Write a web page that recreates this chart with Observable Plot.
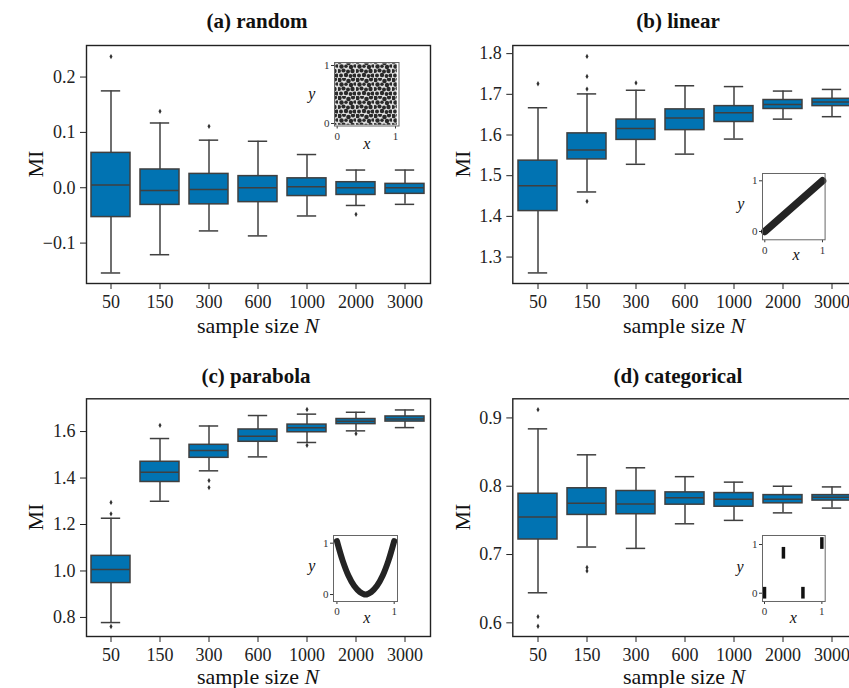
<!DOCTYPE html>
<html>
<head>
<meta charset="utf-8">
<script src="https://cdn.jsdelivr.net/npm/d3@7"></script>
<script src="https://cdn.jsdelivr.net/npm/@observablehq/plot@0.6"></script>
<style>
  html, body { margin: 0; padding: 0; background: #fff; overflow: hidden; }
  #fig { position: relative; width: 849px; height: 688px; overflow: hidden; background: #fff; }
  .cell { position: absolute; overflow: visible; }
  .cell svg { display: block; overflow: visible; }
  #fig svg, #fig svg text { font-family: 'Liberation Serif', 'Times New Roman', serif !important; }
</style>
</head>
<body>
<svg width="0" height="0" style="position:absolute">
  <defs>
    <pattern id="speckle" width="18" height="18" patternUnits="userSpaceOnUse">
      <rect width="18" height="18" fill="#dcdcdc"/>
      <g fill="#111" fill-opacity="0.88">
        <circle cx="1.5" cy="2" r="2.2"/>
        <circle cx="6" cy="1" r="2"/>
        <circle cx="10.5" cy="3" r="2.3"/>
        <circle cx="15" cy="1.5" r="2.1"/>
        <circle cx="3.5" cy="6.5" r="2.2"/>
        <circle cx="8" cy="6.2" r="1.8"/>
        <circle cx="13" cy="7" r="2.2"/>
        <circle cx="17" cy="6" r="1.8"/>
        <circle cx="1" cy="11" r="2"/>
        <circle cx="5.5" cy="10.5" r="2.1"/>
        <circle cx="10" cy="11.5" r="2"/>
        <circle cx="14.5" cy="11" r="2.2"/>
        <circle cx="3" cy="15.5" r="2"/>
        <circle cx="8" cy="15" r="2.2"/>
        <circle cx="12.5" cy="16" r="1.9"/>
        <circle cx="16.5" cy="15.5" r="2.1"/>
      </g>
    </pattern>
    <filter id="soft" x="-5%" y="-5%" width="110%" height="110%"><feGaussianBlur stdDeviation="0.5"/></filter>
  </defs>
</svg>
<div id="fig"></div>
<script>
// Sample sizes on the x axis of every panel
const sizes = ["50", "150", "300", "600", "1000", "2000", "3000"];

// (a) random: lower whisker, Q1, median, Q3, upper whisker, outliers
const randomLow  = [-0.154, -0.121, -0.078, -0.087, -0.051, -0.032, -0.030];
const randomQ1   = [-0.053, -0.031, -0.030, -0.026, -0.015, -0.013, -0.011];
const randomMed  = [ 0.005, -0.005, -0.003,  0.000,  0.002,  0.000,  0.000];
const randomQ3   = [ 0.063,  0.033,  0.025,  0.021,  0.017,  0.010,  0.007];
const randomHigh = [ 0.175,  0.117,  0.086,  0.084,  0.060,  0.032,  0.032];
const randomOutN  = ["50", "150", "300", "2000"];
const randomOutMI = [0.237, 0.138, 0.111, -0.048];
const randomTicks = [-0.1, 0.0, 0.1, 0.2];

// (b) linear
const linearLow  = [1.261, 1.460, 1.528, 1.553, 1.590, 1.639, 1.645];
const linearQ1   = [1.413, 1.540, 1.588, 1.612, 1.632, 1.664, 1.671];
const linearMed  = [1.475, 1.563, 1.616, 1.642, 1.655, 1.675, 1.681];
const linearQ3   = [1.537, 1.604, 1.638, 1.663, 1.671, 1.686, 1.689];
const linearHigh = [1.667, 1.701, 1.710, 1.721, 1.719, 1.708, 1.712];
const linearOutN  = ["50", "150", "150", "150", "150", "300"];
const linearOutMI = [1.726, 1.793, 1.744, 1.713, 1.437, 1.728];
const linearTicks = [1.3, 1.4, 1.5, 1.6, 1.7, 1.8];

// (c) parabola
const parabolaLow  = [0.778, 1.300, 1.431, 1.491, 1.553, 1.603, 1.617];
const parabolaQ1   = [0.948, 1.383, 1.487, 1.556, 1.597, 1.632, 1.643];
const parabolaMed  = [1.006, 1.425, 1.518, 1.580, 1.616, 1.644, 1.654];
const parabolaQ3   = [1.065, 1.470, 1.543, 1.609, 1.630, 1.654, 1.665];
const parabolaHigh = [1.227, 1.570, 1.624, 1.669, 1.675, 1.683, 1.693];
const parabolaOutN  = ["50", "50", "50", "150", "300", "300", "1000", "1000", "2000"];
const parabolaOutMI = [1.295, 1.246, 0.761, 1.627, 1.389, 1.359, 1.695, 1.541, 1.591];
const parabolaTicks = [0.8, 1.0, 1.2, 1.4, 1.6];

// (d) categorical
const categoricalLow  = [0.644, 0.711, 0.709, 0.745, 0.750, 0.761, 0.768];
const categoricalQ1   = [0.722, 0.758, 0.759, 0.773, 0.770, 0.775, 0.779];
const categoricalMed  = [0.755, 0.775, 0.774, 0.783, 0.781, 0.781, 0.784];
const categoricalQ3   = [0.789, 0.797, 0.793, 0.791, 0.790, 0.787, 0.787];
const categoricalHigh = [0.884, 0.846, 0.827, 0.814, 0.806, 0.800, 0.799];
const categoricalOutN  = ["50", "50", "50", "150", "150"];
const categoricalOutMI = [0.912, 0.609, 0.595, 0.681, 0.676];
const categoricalTicks = [0.6, 0.7, 0.8, 0.9];

// Inset sketches of the x–y relationship
const linearSketchX = [0, 1];
const linearSketchY = [0, 1];
const parabolaSketchX = [0, 0.1, 0.2, 0.3, 0.4, 0.5, 0.6, 0.7, 0.8, 0.9, 1];
const parabolaSketchY = [1.04, 0.66, 0.37, 0.17, 0.05, 0.0, 0.05, 0.17, 0.37, 0.66, 1.04];
const categoricalSketchX  = [0, 0.33, 0.67, 1];
const categoricalSketchLo = [-0.12, 0.70, -0.12, 0.90];
const categoricalSketchHi = [0.12, 0.94, 0.12, 1.14];
const insetTicks = [0, 1];

const FONT = "Liberation Serif, Times New Roman, serif";
const BOX_FILL = "#0173b2";
const LINE = "#3f3f3f";
const CLOUD = "#2e2e2e";
const FRAME_W = 344;

const fig = document.getElementById("fig");

function place(node, left, top, w, h) {
  const div = document.createElement("div");
  div.className = "cell";
  div.style.left = left + "px";
  div.style.top = top + "px";
  div.style.width = w + "px";
  div.style.height = h + "px";
  div.appendChild(node);
  fig.appendChild(div);
}

function boxPanel(p) {
  const rows = sizes.map((n, i) => ({
    n, low: p.low[i], q1: p.q1[i], med: p.med[i], q3: p.q3[i], high: p.high[i]
  }));
  const fliers = p.outN.map((n, i) => ({n, v: p.outMI[i]}));
  const band = FRAME_W / 7 * 0.8;
  const cap = band / 4;
  const line = {stroke: LINE, strokeWidth: 1.5};
  const chart = Plot.plot({
    width: p.w,
    height: p.h,
    marginLeft: p.ml,
    marginRight: p.w - p.ml - FRAME_W,
    marginTop: p.mt,
    marginBottom: p.mb,
    style: `font-family: ${FONT}; font-size: 18px; color: #222; background: transparent; overflow: visible;`,
    x: {type: "band", domain: sizes, paddingInner: 0.2, paddingOuter: 0.1,
        tickSize: 6, tickPadding: 6, label: null},
    y: {domain: p.domain, ticks: p.ticks, tickFormat: d3.format(".1f"),
        tickSize: 6, tickPadding: 5, label: null},
    marks: [
      Plot.ruleX(rows, {x: "n", y1: "low", y2: "q1", ...line}),
      Plot.ruleX(rows, {x: "n", y1: "q3", y2: "high", ...line}),
      Plot.tickY(rows, {x: "n", y: "low", insetLeft: cap, insetRight: cap, ...line}),
      Plot.tickY(rows, {x: "n", y: "high", insetLeft: cap, insetRight: cap, ...line}),
      Plot.barY(rows, {x: "n", y1: "q1", y2: "q3", fill: BOX_FILL, stroke: LINE, strokeWidth: 1.5}),
      Plot.tickY(rows, {x: "n", y: "med", ...line}),
      Plot.dot(fliers, {x: "n", y: "v", symbol: "diamond", r: 1.6, fill: "#333", stroke: "none"}),
      Plot.frame({stroke: "#222", strokeWidth: 1.4})
    ]
  });
  place(chart, p.left, p.top, p.w, p.h);
}

function inset(p) {
  const ml = 14, mr = 2, mt = 2, mb = 16;
  const w = p.fw + ml + mr, h = p.fh + mt + mb;
  const chart = Plot.plot({
    width: w,
    height: h,
    marginLeft: ml, marginRight: mr, marginTop: mt, marginBottom: mb,
    style: `font-family: ${FONT}; font-size: 11px; color: #333; background: transparent; overflow: visible;`,
    x: {domain: p.xd, ticks: insetTicks, tickFormat: d3.format("d"), tickSize: 3, tickPadding: 3, label: null},
    y: {domain: p.yd, ticks: insetTicks, tickFormat: d3.format("d"), tickSize: 3, tickPadding: 2, label: null},
    marks: [
      Plot.frame({fill: "white"}),
      ...p.marks,
      Plot.frame({stroke: "#666", strokeWidth: 1})
    ]
  });
  // the uniform cloud is painted with the speckle texture
  d3.select(chart).selectAll(`[fill="${CLOUD}"]`)
    .attr("fill", "url(#speckle)").attr("filter", "url(#soft)");
  place(chart, p.fx - ml, p.fy - mt, w, h);
}

// Four box-plot panels
boxPanel({left: 0, top: 0, w: 432, h: 330, ml: 86, mt: 45, mb: 47,
  domain: [-0.173, 0.257], ticks: randomTicks,
  low: randomLow, q1: randomQ1, med: randomMed, q3: randomQ3, high: randomHigh,
  outN: randomOutN, outMI: randomOutMI});
boxPanel({left: 430, top: 0, w: 430, h: 330, ml: 82.3, mt: 45, mb: 47,
  domain: [1.235, 1.820], ticks: linearTicks,
  low: linearLow, q1: linearQ1, med: linearMed, q3: linearQ3, high: linearHigh,
  outN: linearOutN, outMI: linearOutMI});
boxPanel({left: 0, top: 340, w: 432, h: 340, ml: 86, mt: 58.3, mb: 44,
  domain: [0.718, 1.741], ticks: parabolaTicks,
  low: parabolaLow, q1: parabolaQ1, med: parabolaMed, q3: parabolaQ3, high: parabolaHigh,
  outN: parabolaOutN, outMI: parabolaOutMI});
boxPanel({left: 430, top: 340, w: 430, h: 340, ml: 82.3, mt: 58.3, mb: 44,
  domain: [0.580, 0.928], ticks: categoricalTicks,
  low: categoricalLow, q1: categoricalQ1, med: categoricalMed, q3: categoricalQ3, high: categoricalHigh,
  outN: categoricalOutN, outMI: categoricalOutMI});

// Insets
inset({fx: 334, fy: 61.5, fw: 64.5, fh: 63.5, xd: [-0.046, 1.06], yd: [-0.043, 1.052],
  marks: [Plot.rect([{x1: -0.03, x2: 1.03, y1: -0.03, y2: 1.03}],
    {x1: "x1", x2: "x2", y1: "y1", y2: "y2", fill: CLOUD})]});
inset({fx: 761.7, fy: 172.7, fw: 62.6, fh: 66.3, xd: [-0.04, 1.045], yd: [-0.164, 1.144],
  marks: [Plot.line(linearSketchX.map((x, i) => ({x, y: linearSketchY[i]})),
    {x: "x", y: "y", stroke: "#111", strokeWidth: 7.5, strokeOpacity: 0.92})]});
inset({fx: 333.3, fy: 535, fw: 64, fh: 66, xd: [-0.06, 1.058], yd: [-0.136, 1.15],
  marks: [Plot.line(parabolaSketchX.map((x, i) => ({x, y: parabolaSketchY[i]})),
    {x: "x", y: "y", curve: "catmull-rom", stroke: "#111", strokeWidth: 6, strokeOpacity: 0.92})]});
inset({fx: 762.3, fy: 535, fw: 62.7, fh: 66, xd: [-0.035, 1.058], yd: [-0.17, 1.185],
  marks: [Plot.ruleX(categoricalSketchX.map((x, i) => ({x, lo: categoricalSketchLo[i], hi: categoricalSketchHi[i]})),
    {x: "x", y1: "lo", y2: "hi", stroke: "#111", strokeWidth: 3.5})]});

// Titles and axis labels
const overlay = d3.select(fig).append("svg")
  .attr("width", 849).attr("height", 688)
  .style("position", "absolute").style("left", 0).style("top", 0)
  .style("pointer-events", "none")
  .style("font-family", FONT).attr("fill", "#111");

const titles = [
  {t: "(a) random", x: 257, y: 28},
  {t: "(b) linear", x: 678, y: 28},
  {t: "(c) parabola", x: 256, y: 383},
  {t: "(d) categorical", x: 678, y: 383}
];
titles.forEach(d => overlay.append("text").attr("x", d.x).attr("y", d.y)
  .attr("text-anchor", "middle").attr("font-size", 21).attr("font-weight", "bold").text(d.t));

[{x: 258, y: 333.3}, {x: 684, y: 333.3}, {x: 258, y: 683.5}, {x: 684, y: 683.5}].forEach(d => {
  const t = overlay.append("text").attr("x", d.x).attr("y", d.y)
    .attr("text-anchor", "middle").attr("font-size", 22);
  t.append("tspan").text("sample size ");
  t.append("tspan").attr("font-style", "italic").text("N");
});

[{x: 43, y: 164}, {x: 470, y: 164}, {x: 43, y: 517}, {x: 470, y: 517}].forEach(d =>
  overlay.append("text").attr("transform", `translate(${d.x},${d.y}) rotate(-90)`)
    .attr("text-anchor", "middle").attr("font-size", 22).text("MI"));

[
  {t: "y", x: 311.7, y: 98.5}, {t: "x", x: 366.7, y: 149.3},
  {t: "y", x: 740.7, y: 208.5}, {t: "x", x: 796, y: 259.6},
  {t: "y", x: 311.7, y: 571.1}, {t: "x", x: 366.7, y: 622.9},
  {t: "y", x: 740, y: 571.8}, {t: "x", x: 793.3, y: 622.6}
].forEach(d => overlay.append("text").attr("x", d.x).attr("y", d.y)
  .attr("text-anchor", "middle").attr("font-size", 16).attr("font-style", "italic").text(d.t));
</script>
</body>
</html>
